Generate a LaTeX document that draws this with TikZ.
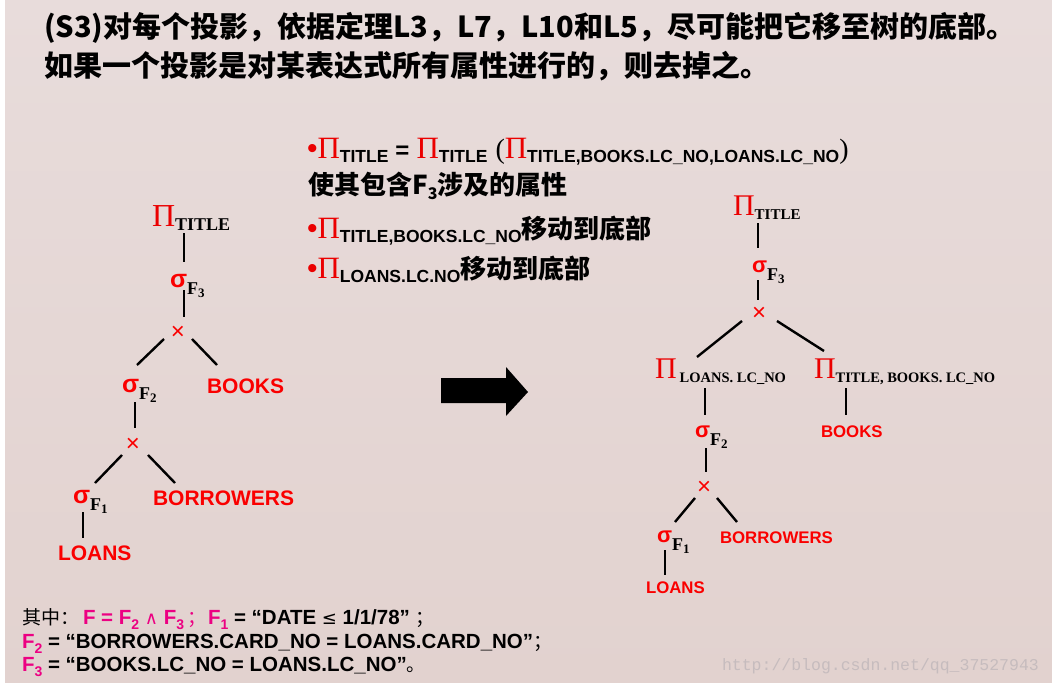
\documentclass[tikz,border=0pt]{standalone}
\usepackage{fontspec}
\setmainfont{Liberation Sans}
\newfontfamily\cjk{Noto Sans CJK SC}
\newfontfamily\serifb{Liberation Serif}
\newfontfamily\dejavu{DejaVu Sans}
\newfontfamily\monowm{Liberation Mono}
\newcommand\myfs[1]{\fontsize{#1}{#1}\selectfont}
\definecolor{bgtop}{RGB}{232,220,219}
\definecolor{bgmid}{RGB}{223,205,201}
\definecolor{bgbot}{RGB}{226,210,207}
\definecolor{pired}{RGB}{235,0,0}
\definecolor{lblred}{RGB}{250,0,0}
\definecolor{pinkc}{RGB}{236,0,130}
\definecolor{wmc}{RGB}{198,188,190}
\newcommand\PIb{\textcolor{pired}{\serifb\myfs{31}Π}}
\newcommand\bsub[1]{\raisebox{-4pt}{\bfseries\myfs{17.5}#1}}
\newcommand\bul{\textcolor{pired}{\myfs{30}•}}
\newcommand\pk[1]{\textcolor{pinkc}{#1}}
\newcommand\psub[1]{\raisebox{-5pt}{\myfs{14}#1}}
\newcommand\tsig[3]{\textcolor{lblred}{\bfseries\myfs{#1}σ}\raisebox{-#2pt}{\serifb\bfseries\myfs{18}F\raisebox{-3pt}{\myfs{13}#3}}}
\tikzset{
  lbl/.style={inner sep=0pt, outer sep=0pt, anchor=base west},
  edge/.style={line width=2.4pt, black},
  opx/.style={inner sep=0pt, anchor=center, text=lblred, font={\myfs{24}}},
  leaf/.style={lbl, text=lblred, font={\bfseries\myfs{#1}}},
}
\begin{document}
\begin{tikzpicture}[x=1pt,y=-1pt]
\useasboundingbox (0,0) rectangle (1052,685);
\fill[white] (0,0) rectangle (1052,685);
\shade[top color=bgtop, middle color=bgmid, bottom color=bgbot] (5,0) rectangle (1052,682);

% heading
\node[anchor=west,inner sep=0pt] (h1) at (44,28) {\cjk\bfseries\myfs{29}(S3)对每个投影，依据定理L3，L7，L10和L5，尽可能把它移至树的底部。};
\node[anchor=west,inner sep=0pt] (h2) at (44,66) {\cjk\bfseries\myfs{29}如果一个投影是对某表达式所有属性进行的，则去掉之。};

% bullets
\node[lbl] (b1) at (307,158) {\bul\PIb\bsub{TITLE}\hspace{7pt}{\bfseries\myfs{24}=}\hspace{7pt}\PIb\bsub{TITLE}\hspace{8pt}{\serifb\myfs{28}(}\PIb\bsub{TITLE,BOOKS.LC\_NO,LOANS.LC\_NO}{\serifb\myfs{28})}};
\node[anchor=west,inner sep=0pt] (b2) at (308,186) {\cjk\bfseries\myfs{26}使其包含F\raisebox{-5pt}{\myfs{16}3}涉及的属性};
\node[lbl] (b3) at (307,238) {\bul\PIb\bsub{TITLE,BOOKS.LC\_NO}{\cjk\bfseries\myfs{26}移动到底部}};
\node[lbl] (b4) at (307,278) {\bul\PIb\bsub{LOANS.LC.NO}{\cjk\bfseries\myfs{26}移动到底部}};

% left tree
\node[lbl] (lpi) at (152,226) {\textcolor{pired}{\serifb\myfs{32}Π}\raisebox{-4pt}{\serifb\bfseries\myfs{18}TITLE}};
\node[lbl] (lsig3) at (170,287) {\tsig{25}{7}{3}};
\node[opx] (lx1) at (178,333) {×};
\node[lbl] (lsig2) at (122,392) {\tsig{25}{7}{2}};
\node[leaf=21] (lbooks) at (207,393) {BOOKS};
\node[opx] (lx2) at (133,445) {×};
\node[lbl] (lsig1) at (73,503) {\tsig{25}{7}{1}};
\node[leaf=21] (lborr) at (153,505) {BORROWERS};
\node[leaf=21] (lloans) at (58,560) {LOANS};

\draw[edge] ([shift={(32,7)}]lpi.base west) -- ([shift={(14,-25)}]lsig3.base west);
\draw[edge] ([shift={(14,3)}]lsig3.base west) -- ([shift={(6,-16)}]lx1.center);
\draw[edge] ([shift={(-14,6)}]lx1.center) -- ([shift={(15,-27)}]lsig2.base west);
\draw[edge] ([shift={(14,6)}]lx1.center) -- ([shift={(10,-28)}]lbooks.base west);
\draw[edge] ([shift={(13,10)}]lsig2.base west) -- ([shift={(2,-17)}]lx2.center);
\draw[edge] ([shift={(-11,10)}]lx2.center) -- ([shift={(22,-20)}]lsig1.base west);
\draw[edge] ([shift={(15,10)}]lx2.center) -- ([shift={(22,-22)}]lborr.base west);
\draw[edge] ([shift={(10,9)}]lsig1.base west) -- ([shift={(25,-22)}]lloans.base west);

% arrow
\fill[black] (441,378) -- (506,378) -- (506,367) -- (528,392) -- (506,416) -- (506,403) -- (441,403) -- cycle;

% right tree
\node[lbl] (rpi) at (733,215) {\textcolor{pired}{\serifb\myfs{30}Π}\raisebox{-4pt}{\serifb\bfseries\myfs{15}TITLE}};
\node[lbl] (rsig3) at (752,272) {\tsig{22}{8}{3}};
\node[opx] (rx1) at (759,314) {×};
\node[lbl] (rpl) at (655,378) {\textcolor{pired}{\serifb\myfs{30}Π}\hspace{3pt}\raisebox{-4pt}{\serifb\bfseries\myfs{14.5}LOANS. LC\_NO}};
\node[lbl] (rpt) at (814,378) {\textcolor{pired}{\serifb\myfs{30}Π}\raisebox{-4pt}{\serifb\bfseries\myfs{14.5}TITLE, BOOKS. LC\_NO}};
\node[lbl] (rsig2) at (695,437) {\tsig{22}{8}{2}};
\node[leaf=16.8] (rbooks) at (821,437) {BOOKS};
\node[opx] (rx2) at (704,488) {×};
\node[lbl] (rsig1) at (657,542) {\tsig{22}{8}{1}};
\node[leaf=16.8] (rborr) at (720,543) {BORROWERS};
\node[leaf=16.8] (rloans) at (646,593) {LOANS};

\draw[edge] ([shift={(25,8)}]rpi.base west) -- ([shift={(6,-24)}]rsig3.base west);
\draw[edge] ([shift={(6,8)}]rsig3.base west) -- ([shift={(-1,-14)}]rx1.center);
\draw[edge] ([shift={(-17,7)}]rx1.center) -- ([shift={(42,-21)}]rpl.base west);
\draw[edge] ([shift={(18,7)}]rx1.center) -- ([shift={(10,-27)}]rpt.base west);
\draw[edge] ([shift={(50,10)}]rpl.base west) -- ([shift={(10,-22)}]rsig2.base west);
\draw[edge] ([shift={(32,10)}]rpt.base west) -- ([shift={(25,-22)}]rbooks.base west);
\draw[edge] ([shift={(11,11)}]rsig2.base west) -- ([shift={(2,-16)}]rx2.center);
\draw[edge] ([shift={(-9,10)}]rx2.center) -- ([shift={(18,-20)}]rsig1.base west);
\draw[edge] ([shift={(13,10)}]rx2.center) -- ([shift={(17,-21)}]rborr.base west);
\draw[edge] ([shift={(8,8)}]rsig1.base west) -- ([shift={(19,-18)}]rloans.base west);

% bottom notes
\node[lbl] (n1) at (22,624) {\bfseries\myfs{20.5}{\cjk\mdseries\myfs{19}其中：}\hspace{4pt}\pk{F = F\psub{2} {\dejavu\mdseries\myfs{18}∧} F\psub{3}}\hspace{3pt}\pk{\cjk\mdseries\myfs{19}；}\hspace{2pt}\pk{F\psub{1}} = “DATE {\dejavu\mdseries\myfs{18}≤} 1/1/78” {\cjk\mdseries\myfs{19}；}};
\node[lbl] (n2) at (22,648) {\bfseries\myfs{20.5}\pk{F\psub{2}} = “BORROWERS.CARD\_NO = LOANS.CARD\_NO”{\cjk\mdseries\myfs{19}；}};
\node[lbl] (n3) at (22,671) {\bfseries\myfs{20.5}\pk{F\psub{3}} = “BOOKS.LC\_NO = LOANS.LC\_NO”{\cjk\mdseries\myfs{19}。}};

% watermark
\node[lbl, text=wmc] (wm) at (722,670) {\monowm\myfs{16.5}http://blog.csdn.net/qq\_37527943};
\end{tikzpicture}
\end{document}
